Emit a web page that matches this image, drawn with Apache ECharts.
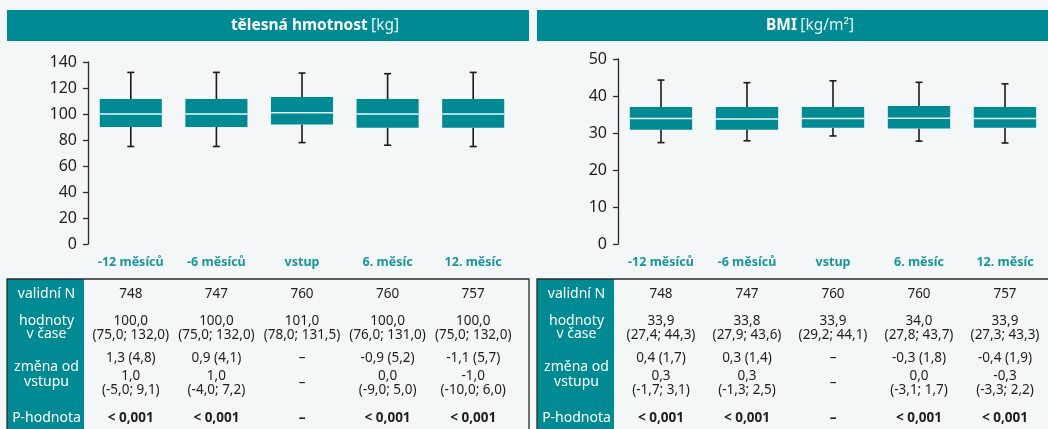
<!DOCTYPE html>
<html>
<head>
<meta charset="utf-8">
<script src="https://cdn.jsdelivr.net/npm/echarts@6/dist/echarts.min.js"></script>
<style>
  html, body { margin: 0; padding: 0; background: #f3f7f7; }
  #chart { width: 1048px; height: 429px; }
</style>
</head>
<body>
<div id="chart"></div>
<script>
// ---------- data ----------
const categories = ['-12 měsíců', '-6 měsíců', 'vstup', '6. měsíc', '12. měsíc'];

// body weight [kg]: 5th pct, Q1, median, Q3, 95th pct
const weightP5     = [75.0, 75.0, 78.0, 76.0, 75.0];
const weightQ1     = [90.0, 90.0, 92.0, 89.5, 89.5];
const weightMedian = [100.0, 100.0, 101.0, 100.0, 100.0];
const weightQ3     = [111.5, 111.5, 113.0, 111.5, 111.5];
const weightP95    = [132.0, 132.0, 131.5, 131.0, 132.0];

// BMI [kg/m2]
const bmiP5     = [27.4, 27.9, 29.2, 27.8, 27.3];
const bmiQ1     = [30.9, 30.9, 31.4, 31.2, 31.4];
const bmiMedian = [33.9, 33.8, 33.9, 34.0, 33.9];
const bmiQ3     = [37.0, 37.0, 37.0, 37.3, 37.0];
const bmiP95    = [44.3, 43.6, 44.1, 43.7, 43.3];

const weightTicks = [0, 20, 40, 60, 80, 100, 120, 140];
const bmiTicks = [0, 10, 20, 30, 40, 50];

// table rows
const rowLabels = ['validní N', 'hodnoty\nv čase', 'změna od\nvstupu', 'P-hodnota'];
const validN = ['748', '747', '760', '760', '757'];
const weightValues = ['100,0\n(75,0; 132,0)', '100,0\n(75,0; 132,0)', '101,0\n(78,0; 131,5)', '100,0\n(76,0; 131,0)', '100,0\n(75,0; 132,0)'];
const weightChangeMean = ['1,3 (4,8)', '0,9 (4,1)', '–', '-0,9 (5,2)', '-1,1 (5,7)'];
const weightChangeMedian = ['1,0\n(-5,0; 9,1)', '1,0\n(-4,0; 7,2)', '–', '0,0\n(-9,0; 5,0)', '-1,0\n(-10,0; 6,0)'];
const bmiValues = ['33,9\n(27,4; 44,3)', '33,8\n(27,9; 43,6)', '33,9\n(29,2; 44,1)', '34,0\n(27,8; 43,7)', '33,9\n(27,3; 43,3)'];
const bmiChangeMean = ['0,4 (1,7)', '0,3 (1,4)', '–', '-0,3 (1,8)', '-0,4 (1,9)'];
const bmiChangeMedian = ['0,3\n(-1,7; 3,1)', '0,3\n(-1,3; 2,5)', '–', '0,0\n(-3,1; 1,7)', '-0,3\n(-3,3; 2,2)'];
const pValues = ['< 0,001', '< 0,001', '–', '< 0,001', '< 0,001'];

// ---------- chart ----------
const TEAL = '#008a93';
const FONT = '"Noto Sans", "Open Sans", sans-serif';

function boxData(p5, q1, med, q3, p95) {
  return categories.map((c, i) => [i, p5[i], q1[i], med[i], q3[i], p95[i]]);
}

function renderBox(params, api) {
  const i = api.value(0);
  const pLo = api.coord([i, api.value(1)]);
  const pQ1 = api.coord([i, api.value(2)]);
  const pMed = api.coord([i, api.value(3)]);
  const pQ3 = api.coord([i, api.value(4)]);
  const pHi = api.coord([i, api.value(5)]);
  const band = api.size([1, 0])[0];
  const w = band * 0.725;
  const x = pMed[0];
  const cap = 3.5;
  const wStyle = { stroke: '#1a1a1a', lineWidth: 1.6 };
  return {
    type: 'group',
    children: [
      { type: 'line', shape: { x1: x, y1: pHi[1], x2: x, y2: pQ3[1] }, style: wStyle },
      { type: 'line', shape: { x1: x, y1: pLo[1], x2: x, y2: pQ1[1] }, style: wStyle },
      { type: 'line', shape: { x1: x - cap, y1: pHi[1], x2: x + cap, y2: pHi[1] }, style: wStyle },
      { type: 'line', shape: { x1: x - cap, y1: pLo[1], x2: x + cap, y2: pLo[1] }, style: wStyle },
      { type: 'rect', shape: { x: x - w / 2, y: pQ3[1], width: w, height: pQ1[1] - pQ3[1] }, style: { fill: TEAL } },
      { type: 'line', shape: { x1: x - w / 2, y1: pMed[1], x2: x + w / 2, y2: pMed[1] }, style: { stroke: '#eaf6f7', lineWidth: 1.6 } }
    ]
  };
}

function yAxisCfg(gridIndex, ticks, margin) {
  return {
    type: 'value', gridIndex: gridIndex,
    min: ticks[0], max: ticks[ticks.length - 1], interval: ticks[1] - ticks[0],
    axisLine: { show: true, lineStyle: { color: '#2a2a2a', width: 1.3 } },
    axisTick: { show: true, length: 5, lineStyle: { color: '#2a2a2a', width: 1.3 } },
    splitLine: { show: false },
    axisLabel: { color: '#1e1e1e', fontSize: 16, fontFamily: FONT, margin: margin }
  };
}

function xAxisCfg(gridIndex) {
  return {
    type: 'category', gridIndex: gridIndex, data: categories, boundaryGap: true,
    axisLine: { show: false }, axisTick: { show: false },
    axisLabel: { color: '#1a949c', fontSize: 12.5, fontWeight: 'bold', fontFamily: FONT,
      margin: 12, interval: 0, hideOverlap: false }
  };
}

const chart = echarts.init(document.getElementById('chart'), null, { renderer: 'canvas' });

chart.setOption({
  backgroundColor: '#f3f7f7',
  animation: false,
  grid: [
    { left: 88, top: 62, width: 428, height: 182 },
    { left: 618, top: 59, width: 435, height: 185 }
  ],
  xAxis: [xAxisCfg(0), xAxisCfg(1)],
  yAxis: [yAxisCfg(0, weightTicks, 11), yAxisCfg(1, bmiTicks, 11)],
  series: [
    { type: 'custom', xAxisIndex: 0, yAxisIndex: 0, renderItem: renderBox,
      encode: { x: 0, y: [1, 2, 3, 4, 5] },
      data: boxData(weightP5, weightQ1, weightMedian, weightQ3, weightP95) },
    { type: 'custom', xAxisIndex: 1, yAxisIndex: 1, renderItem: renderBox,
      encode: { x: 0, y: [1, 2, 3, 4, 5] },
      data: boxData(bmiP5, bmiQ1, bmiMedian, bmiQ3, bmiP95) }
  ]
});

// ---------- headers & tables (graphic) ----------
function txt(x, y, text, opts) {
  opts = opts || {};
  return {
    type: 'text', x: x, y: y, silent: true,
    style: {
      text: text,
      fill: opts.fill || '#1e1e1e',
      font: (opts.weight || 'normal') + ' ' + (opts.size || 13.5) + 'px ' + FONT,
      align: 'center', verticalAlign: 'middle',
      textAlign: 'center', textVerticalAlign: 'middle',
      lineHeight: opts.lh || 14
    }
  };
}

function header(x, w, cx, title, unit) {
  return [
    { type: 'rect', shape: { x: x, y: 10, width: w, height: 31 }, style: { fill: TEAL }, silent: true },
    {
      type: 'text', x: cx, y: 26, silent: true,
      style: {
        text: '{b|' + title + '} {r|' + unit + '}',
        align: 'center', verticalAlign: 'middle',
        textAlign: 'center', textVerticalAlign: 'middle',
        rich: {
          b: { fill: '#ffffff', color: '#ffffff', fontWeight: 'bold', fontSize: 15.5, fontFamily: FONT },
          r: { fill: '#e6f3f4', color: '#e6f3f4', fontWeight: 'normal', fontSize: 15.5, fontFamily: FONT }
        }
      }
    }
  ];
}

const rowY = { n: 294, val: 328, mean: 358, med: 383, p: 418 };

function table(gridIdx, x0, x1, colW, values, changeMean, changeMedian) {
  const els = [];
  // left teal column
  els.push({ type: 'rect', shape: { x: x0, y: 279, width: colW, height: 160 }, style: { fill: TEAL }, silent: true });
  // border
  els.push({ type: 'polyline', shape: { points: [[x0, 440], [x0, 279], [x1, 279], [x1, 440]] },
    style: { stroke: '#2b2b2b', lineWidth: 1.3, fill: null }, silent: true });
  const lx = x0 + colW / 2 + 1;
  els.push(txt(lx, rowY.n, rowLabels[0], { fill: '#fff', size: 14 }));
  els.push(txt(lx, rowY.val, rowLabels[1], { fill: '#fff', size: 14, lh: 13 }));
  els.push(txt(lx, 375, rowLabels[2], { fill: '#fff', size: 14, lh: 15 }));
  els.push(txt(lx, rowY.p, rowLabels[3], { fill: '#fff', size: 14 }));
  categories.forEach((c, i) => {
    const cx = chart.convertToPixel({ xAxisIndex: gridIdx }, i);
    els.push(txt(cx, rowY.n, validN[i]));
    els.push(txt(cx, rowY.val, values[i], { lh: 13.5 }));
    els.push(txt(cx, rowY.mean, changeMean[i]));
    els.push(txt(cx, rowY.med, changeMedian[i], { lh: 13.5 }));
    els.push(txt(cx, rowY.p, pValues[i], { weight: 'bold' }));
  });
  return els;
}

const graphics = []
  .concat(header(7, 522, 315, 'tělesná hmotnost', '[kg]'))
  .concat(header(537, 520, 810, 'BMI', '[kg/m²]'))
  .concat(table(0, 7, 529, 77, weightValues, weightChangeMean, weightChangeMedian))
  .concat(table(1, 537, 1060, 77, bmiValues, bmiChangeMean, bmiChangeMedian));

chart.setOption({ graphic: { elements: graphics } });
</script>
</body>
</html>
